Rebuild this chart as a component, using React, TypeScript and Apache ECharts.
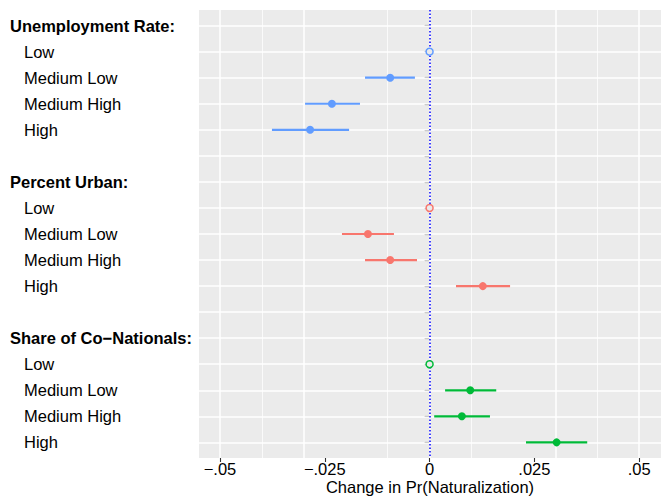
import React, { useEffect, useRef } from 'react';
import * as echarts from 'echarts';

const rowLabels = [
  'Unemployment Rate:', 'Low', 'Medium Low', 'Medium High', 'High', '',
  'Percent Urban:', 'Low', 'Medium Low', 'Medium High', 'High', '',
  'Share of Co−Nationals:', 'Low', 'Medium Low', 'Medium High', 'High',
];
const headerRows = [1, 7, 13];

const unempEst = [0, -0.0094, -0.0233, -0.0285];
const unempLo = [0, -0.0154, -0.0297, -0.0376];
const unempHi = [0, -0.0035, -0.0166, -0.0192];

const urbanEst = [0, -0.0147, -0.0094, 0.0127];
const urbanLo = [0, -0.0209, -0.0154, 0.0063];
const urbanHi = [0, -0.0085, -0.0030, 0.0192];

const conatEst = [0, 0.0097, 0.0077, 0.0303];
const conatLo = [0, 0.0037, 0.0011, 0.0230];
const conatHi = [0, 0.0159, 0.0144, 0.0376];

const xTickValues = [-0.05, -0.025, 0, 0.025, 0.05];
const xTickLabels = ['−.05', '−.025', '0', '.025', '.05'];
const xMinorValues = [-0.0375, -0.0125, 0.0125, 0.0375];
const xTitle = 'Change in Pr(Naturalization)';

const groups = [
  { firstRow: 2, color: '#619CFF', est: unempEst, lo: unempLo, hi: unempHi },
  { firstRow: 8, color: '#F8766D', est: urbanEst, lo: urbanLo, hi: urbanHi },
  { firstRow: 14, color: '#00BA38', est: conatEst, lo: conatLo, hi: conatHi },
];

const FONT = '"Liberation Sans", Arial, Helvetica, sans-serif';
const FS = 16.5;

export default function App() {
  const ref = useRef<HTMLDivElement>(null);

  useEffect(() => {
    if (!ref.current) return;
    const chart = echarts.init(ref.current, null, { renderer: 'svg' });
    const rows = rowLabels.map((_, i) => i + 1);

    const series: any[] = [];
    // gridlines
    series.push({
      type: 'line',
      data: [],
      z: 1,
      silent: true,
      markLine: {
        z: 1,
        silent: true,
        symbol: 'none',
        label: { show: false },
        animation: false,
        data: [
          ...xTickValues.map((v) => ({ xAxis: v, lineStyle: { color: '#FFFFFF', width: 1.5, type: 'solid' } })),
          ...xMinorValues.map((v) => ({ xAxis: v, lineStyle: { color: '#FFFFFF', width: 0.75, type: 'solid' } })),
          ...rows.map((r) => ({ yAxis: r, lineStyle: { color: '#FFFFFF', width: 1.5, type: 'solid' } })),
        ],
      },
    });
    // zero reference line
    series.push({
      type: 'line',
      data: [],
      z: 2,
      silent: true,
      markLine: {
        z: 2,
        silent: true,
        symbol: 'none',
        label: { show: false },
        animation: false,
        lineStyle: { color: '#0000FF', width: 1.5, type: [1.5, 2], opacity: 1 },
        data: [{ xAxis: 0 }],
      },
    });

    groups.forEach((g) => {
      const bars: number[][] = [];
      const pts: number[][] = [];
      const refs: number[][] = [];
      g.est.forEach((e, i) => {
        const row = g.firstRow + i;
        if (g.lo[i] === g.hi[i]) {
          refs.push([e, row]);
        } else {
          bars.push([g.lo[i], g.hi[i], row]);
          pts.push([e, row]);
        }
      });
      series.push({
        type: 'custom',
        z: 10,
        silent: true,
        data: bars,
        encode: { x: [0, 1], y: 2 },
        renderItem: (params: any, api: any) => {
          const a = api.coord([api.value(0), api.value(2)]);
          const b = api.coord([api.value(1), api.value(2)]);
          return {
            type: 'line',
            shape: { x1: a[0], y1: a[1], x2: b[0], y2: b[1] },
            style: { stroke: g.color, lineWidth: 2.2 },
          };
        },
      });
      series.push({
        type: 'scatter',
        z: 11,
        silent: true,
        data: pts,
        symbol: 'circle',
        symbolSize: 8,
        itemStyle: { color: g.color, opacity: 1 },
      });
      series.push({
        type: 'scatter',
        z: 11,
        silent: true,
        data: refs,
        symbol: 'circle',
        symbolSize: 7,
        itemStyle: { color: '#EBEBEB', borderColor: g.color, borderWidth: 1.5, opacity: 1 },
      });
    });

    chart.setOption({
      animation: false,
      textStyle: { fontFamily: FONT },
      grid: {
        left: 199,
        right: 2,
        top: 10,
        bottom: 40,
        show: true,
        backgroundColor: '#EBEBEB',
        borderWidth: 0,
        containLabel: false,
        outerBoundsMode: 'none',
      },
      xAxis: {
        type: 'value',
        min: -0.055,
        max: 0.0552,
        axisLine: { show: false },
        splitLine: { show: false },
        axisTick: {
          show: true,
          customValues: xTickValues,
          length: 4,
          lineStyle: { color: '#333333', width: 1.1 },
        },
        axisLabel: {
          customValues: xTickValues,
          margin: 2,
          color: '#000000',
          fontSize: FS,
          fontFamily: FONT,
          formatter: (v: number) => {
            const idx = xTickValues.findIndex((t) => Math.abs(t - v) < 1e-9);
            return idx >= 0 ? xTickLabels[idx] : '';
          },
        },
        name: xTitle,
        nameLocation: 'middle',
        nameGap: 20,
        nameMoveOverlap: false,
        nameTextStyle: { color: '#000000', fontSize: FS, fontFamily: FONT },
      },
      yAxis: {
        type: 'value',
        inverse: true,
        min: 0.4,
        max: 17.6,
        axisLine: { show: false },
        splitLine: { show: false },
        axisTick: {
          show: true,
          customValues: rows,
          length: 5,
          lineStyle: { color: '#333333', width: 1.1 },
        },
        axisLabel: {
          customValues: rows,
          align: 'left',
          margin: 189,
          color: '#000000',
          fontSize: FS,
          fontFamily: FONT,
          formatter: (v: number) => {
            const r = Math.round(v);
            const t = rowLabels[r - 1];
            if (!t) return '';
            return headerRows.includes(r) ? `{h|${t}}` : `{i|${t}}`;
          },
          rich: {
            h: { fontWeight: 'bold', fontSize: FS, fontFamily: FONT, color: '#000000' },
            i: { fontSize: FS, fontFamily: FONT, color: '#000000', padding: [0, 0, 0, 14] },
          },
        },
      },
      series,
    });

    return () => {
      chart.dispose();
    };
  }, []);

  return (
    <div
      ref={ref}
      style={{ position: 'fixed', left: 0, top: 0, width: 663, height: 498, background: '#FFFFFF' }}
    />
  );
}
